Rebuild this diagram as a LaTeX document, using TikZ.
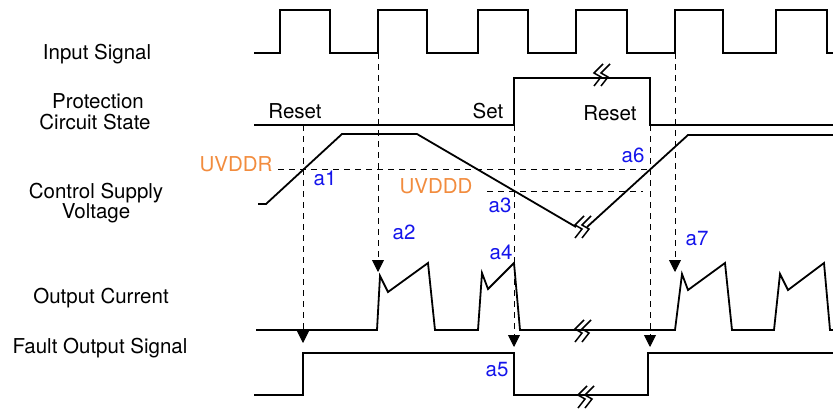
\documentclass[tikz,border=0pt]{standalone}
\usepackage{fontspec}
\setmainfont{TeX Gyre Heros}
\usetikzlibrary{arrows.meta}
\definecolor{uvorange}{RGB}{242,140,62}
\definecolor{lblblue}{RGB}{20,20,235}
\begin{document}
\begin{tikzpicture}[x=1pt,y=-1pt,
  sig/.style={line width=1.8pt, line join=miter},
  guide/.style={line width=0.9pt, dash pattern=on 6pt off 5pt},
  guidearrow/.style={guide, -{Triangle[length=12pt,width=12pt]}},
  lab/.style={font=\fontsize{20.5}{22}\selectfont, anchor=base, inner sep=0pt},
  thr/.style={lab, text=uvorange},
  pt/.style={lab, text=lblblue},
  brk/.pic={
    \draw[line width=1.5pt, line join=miter] (1,-11) -- (-8,-2) -- (-1,2) -- (-8,11);
    \draw[line width=1.5pt, line join=miter] (8,-11) -- (-1,-2) -- (6,2) -- (-1,11);
  }]
\useasboundingbox (0,0) rectangle (833,410);

% ---------- row labels ----------
\node[lab] (lin) at (97,59) {Input Signal};
\node[lab] (lpr1) at (98,108) {Protection};
\node[lab] (lpr2) at (95,129) {Circuit State};
\node[lab] (lcv1) at (96,198) {Control Supply};
\node[lab] (lcv2) at (96,218) {Voltage};
\node[lab] (loc) at (101,303) {Output Current};
\node[lab] (lfo) at (100,353) {Fault Output Signal};

% ---------- guide lines ----------
\draw[guide] (278,169) -- (650,169);
\draw[guide] (487,191) -- (643,191);
\coordinate (g1s) at (303,125); \coordinate (g1e) at (303,343);
\coordinate (g2s) at (378,53);  \coordinate (g2e) at (378,272);
\coordinate (g3s) at (514,125); \coordinate (g3e) at (514,347);
\coordinate (g4s) at (650,125); \coordinate (g4e) at (650,347);
\coordinate (g5s) at (675,53);  \coordinate (g5e) at (675,272);
\draw[guidearrow] (g1s) -- (g1e);
\draw[guidearrow] (g2s) -- (g2e);
\draw[guidearrow] (g3s) -- (g3e);
\draw[guidearrow] (g4s) -- (g4e);
\draw[guidearrow] (g5s) -- (g5e);

% ---------- input signal ----------
\draw[sig] (254,53) -- (280,53) -- (280,10) -- (330,10) -- (330,53)
  -- (378,53) -- (378,10) -- (427,10) -- (427,53)
  -- (478,53) -- (478,10) -- (528,10) -- (528,53)
  -- (576,53) -- (576,10) -- (627,10) -- (627,53)
  -- (675,53) -- (675,10) -- (723,10) -- (723,53)
  -- (776,53) -- (776,10) -- (827,10) -- (827,53) -- (833,53);

% ---------- protection circuit state ----------
\draw[sig] (254,125) -- (514,125) -- (514,78) -- (650,78) -- (650,125) -- (833,125);
\pic at (602,75) {brk};
\node[lab] (rst1) at (295,118) {Reset};
\node[lab] (set) at (488,118) {Set};
\node[lab] (rst2) at (610,120) {Reset};

% ---------- control supply voltage ----------
\draw[sig] (258,204) -- (266,204) -- (342,134) -- (417,134) -- (576,227);
\draw[sig] (587,227) -- (688,135) -- (833,135);
\pic at (583,227) {brk};
\node[thr] (uvddr) at (236,171) {UVDDR};
\node[thr] (uvddd) at (436,193) {UVDDD};

% ---------- output current ----------
\draw[sig] (256,330) -- (377,330) -- (380,276) -- (388,292) -- (428,263) -- (435,330)
  -- (478,330) -- (482,273) -- (488,289) -- (514,263) -- (520,330)
  -- (675,330) -- (682,274) -- (688,290) -- (725,263) -- (732,330)
  -- (774,330) -- (780,274) -- (788,290) -- (824,263) -- (830,330) -- (833,330);
\pic at (583,331) {brk};

% ---------- fault output signal ----------
\draw[sig] (254,395) -- (303,395) -- (303,353) -- (514,353) -- (514,395)
  -- (648,395) -- (648,353) -- (833,353);
\pic at (586,397) {brk};

% ---------- event labels ----------
\node[pt] (a1) at (325,185) {a1};
\node[pt] (a2) at (404,239) {a2};
\node[pt] (a3) at (500,212) {a3};
\node[pt] (a4) at (501,259) {a4};
\node[pt] (a5) at (497,376) {a5};
\node[pt] (a6) at (633,162) {a6};
\node[pt] (a7) at (697,245) {a7};
\end{tikzpicture}
\end{document}
